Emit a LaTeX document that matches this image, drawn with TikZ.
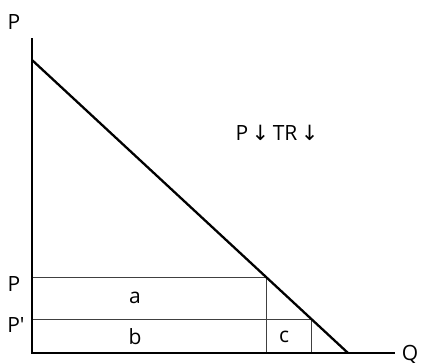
\documentclass[tikz,border=0pt]{standalone}
\usepackage{fontspec}
\setmainfont{Open Sans}
\newfontfamily\arrowfont{DejaVu Sans}
\begin{document}
\begin{tikzpicture}[x=1pt,y=-1pt,
  axis/.style={line width=2.8pt},
  demand/.style={line width=2.3pt},
  thin/.style={line width=0.9pt,draw=black!75},
  lbl/.style={font=\fontsize{21}{23}\selectfont,inner sep=0pt}]
\useasboundingbox (0,0) rectangle (425,362);
\coordinate (O) at (32,353);
\coordinate (Ytop) at (32,38);
\coordinate (Xend) at (395,353);
\coordinate (D0) at (32,60);
\coordinate (D1) at (348,353);
\coordinate (Pl) at (32,277);
\coordinate (Pr) at (266,277);
\coordinate (Ql) at (32,319);
\coordinate (Qr) at (311,319);
\coordinate (Pb) at (266,353);
\coordinate (Qb) at (311,353);
\draw[thin] (Pl) -- (Pr) -- (Pb);
\draw[thin] (Ql) -- (Qr) -- (Qb);
\draw[demand] (D0) -- (D1);
\draw[axis,line cap=butt] (Ytop) -- (O) -- (Xend);
\node[lbl] (lP) at (14,22) {P};
\node[lbl] (lQ) at (410,355) {Q};
\node[lbl] (lPa) at (14,284) {P};
\node[lbl] (lPb) at (16,325) {P\textquotesingle};
\node[lbl] (la) at (135,298) {a};
\node[lbl] (lb) at (135,337) {b};
\node[lbl] (lc) at (284,337) {c};
\node[lbl] (t) at (277,133) {P\,{\arrowfont↓}\,TR\,{\arrowfont↓}};
\end{tikzpicture}
\end{document}
